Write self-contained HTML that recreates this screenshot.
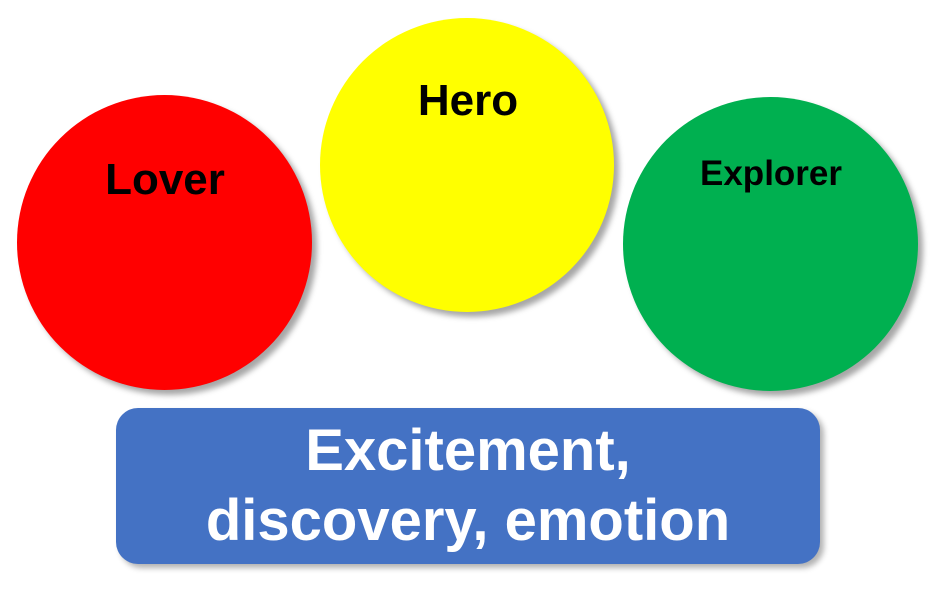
<!DOCTYPE html>
<html><head><meta charset="utf-8"><style>
html,body{margin:0;padding:0;background:#fff;}
body{width:950px;height:599px;position:relative;overflow:hidden;font-family:"Liberation Sans",sans-serif;}
.c{position:absolute;border-radius:50%;box-shadow:5px 5px 6px rgba(0,0,0,0.35);}
.t{position:absolute;font-weight:bold;color:#000;text-align:center;white-space:nowrap;}
.box{position:absolute;left:116px;top:408px;width:704px;height:156px;background:#4472C4;border-radius:22px;box-shadow:4px 4px 6px rgba(0,0,0,0.3);}
.bt{position:absolute;left:116px;width:704px;text-align:center;color:#fff;font-weight:bold;font-size:58px;line-height:66px;white-space:nowrap;}
</style></head><body>
<div class="c" style="left:17px;top:95px;width:295px;height:295px;background:#FF0000;"></div>
<div class="c" style="left:320px;top:18px;width:294px;height:294px;background:#FFFF00;"></div>
<div class="c" style="left:623px;top:97px;width:295px;height:294px;background:#00B050;"></div>
<div class="t" style="left:65px;width:200px;top:154px;font-size:44px;line-height:52px;">Lover</div>
<div class="t" style="left:368px;width:200px;top:75px;font-size:44px;line-height:52px;">Hero</div>
<div class="t" style="left:671px;width:200px;top:153px;font-size:35px;line-height:42px;">Explorer</div>
<div class="box"></div>
<div class="bt" style="top:418px;">Excitement,</div>
<div class="bt" style="top:488px;">discovery, emotion</div>
</body></html>
